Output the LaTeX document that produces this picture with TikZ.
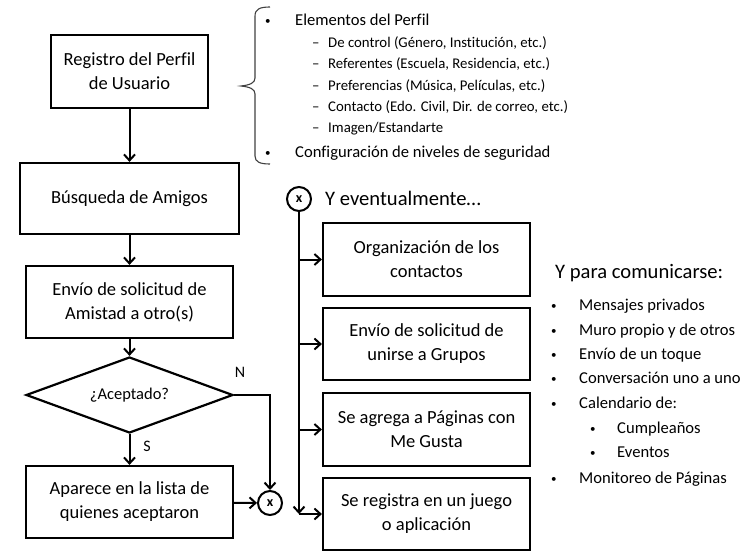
\documentclass[tikz,border=0pt]{standalone}
\usepackage{fontspec}
\setmainfont[Ligatures={NoCommon}]{Carlito}
\usetikzlibrary{shapes.geometric,arrows.meta}
\newcommand{\smbul}{\raisebox{0.5pt}{\fontsize{11}{11}\selectfont •}}
\begin{document}
\begin{tikzpicture}[x=1pt,y=-1pt,
  box/.style={draw,line width=2.2pt,inner sep=0pt,align=center,font=\fontsize{18.5}{24}\selectfont},
  lbox/.style={box,minimum width=207pt,minimum height=72pt},
  conn/.style={line width=2pt,-{Straight Barb[length=6pt,width=11pt]}},
  xcirc/.style={circle,draw,line width=2pt,minimum size=24pt,inner sep=0pt,font=\bfseries\fontsize{14}{14}\selectfont},
  item/.style={anchor=base west,inner sep=0pt,font=\fontsize{16.6}{20}\selectfont},
  subitem/.style={anchor=base west,inner sep=0pt,font=\fontsize{14.8}{18}\selectfont},
  title/.style={anchor=base west,inner sep=0pt,font=\fontsize{20.6}{24}\selectfont},
  lab/.style={inner sep=0pt,font=\fontsize{16}{18}\selectfont}
]
\useasboundingbox (0,0) rectangle (751,559);

% left column
\node[box,minimum width=157pt,minimum height=73pt] (reg) at (129.5,71.5) {Registro del Perfil\\de Usuario};
\node[box,minimum width=219pt,minimum height=71pt] (bus) at (129.5,198.5) {Búsqueda de Amigos};
\node[lbox] (env) at (129.5,302) {Envío de solicitud de\\Amistad a otro(s)};
\node[diamond,draw,line width=2.2pt,aspect=3,minimum width=207pt,minimum height=76pt,inner sep=0pt,font=\fontsize{16.5}{20}\selectfont] (acep) at (129.5,395) {¿Aceptado?};
\node[lbox] (apa) at (129.5,502) {Aparece en la lista de\\quienes aceptaron};
\node[xcirc] (x1) at (270,503) {x};
\node[lab] (lN) at (240,372) {N};
\node[lab] (lS) at (147,446) {S};

\draw[conn] (reg) -- (bus);
\draw[conn] (bus) -- (env);
\draw[conn] (env) -- (acep);
\draw[conn] (acep) -- (apa);
\draw[conn] (acep.east) -| (x1.north);
\draw[conn] (apa) -- (x1);

% right column
\node[xcirc] (x2) at (299,199) {x};
\node[title] (yev) at (325,205.6) {Y eventualmente…};
\node[box,minimum width=207pt,minimum height=73pt] (ba) at (426.5,259.5) {Organización de los\\contactos};
\node[lbox] (bb) at (426.5,344) {Envío de solicitud de\\unirse a Grupos};
\node[box,minimum width=207pt,minimum height=73pt] (bc) at (426.5,429.5) {Se agrega a Páginas con\\Me Gusta};
\node[lbox] (bd) at (426.5,514) {Se registra en un juego\\o aplicación};
\coordinate (vend) at (x2.south |- bd.west);
\draw[conn] (x2) -- (vend);
\draw[conn] (x2.south |- ba.west) -- (ba.west);
\draw[conn] (x2.south |- bb.west) -- (bb.west);
\draw[conn] (x2.south |- bc.west) -- (bc.west);
\draw[conn] (vend) -- (bd.west);

% brace
\draw[line width=1.1pt,black!75] (270,7) .. controls (260,7) and (255,9) .. (255,16) -- (255,78)
  .. controls (255,83) and (250,85) .. (241,86) .. controls (250,87) and (255,89) .. (255,94)
  -- (255,156) .. controls (255,162) and (260,164) .. (270,164);

% top list
\node[item] (t1) at (265,25.3) {\makebox[30pt][l]{\smbul}Elementos del Perfil};
\node[subitem] (t2) at (312,47.6) {\makebox[16pt][l]{–}De control (Género, Institución, etc.)};
\node[subitem] (t3) at (312,68.6) {\makebox[16pt][l]{–}Referentes (Escuela, Residencia, etc.)};
\node[subitem] (t4) at (312,90.6) {\makebox[16pt][l]{–}Preferencias (Música, Películas, etc.)};
\node[subitem] (t5) at (312,111.6) {\makebox[16pt][l]{–}Contacto (Edo. Civil, Dir. de correo, etc.)};
\node[subitem] (t6) at (312,132.6) {\makebox[16pt][l]{–}Imagen/Estandarte};
\node[item] (t7) at (265,157.3) {\makebox[30pt][l]{\smbul}Configuración de niveles de seguridad};

% right list
\node[title] (ypc) at (555,278.6) {Y para comunicarse:};
\node[item] (r1) at (551,310.3) {\makebox[28pt][l]{\smbul}Mensajes privados};
\node[item] (r2) at (551,335.3) {\makebox[28pt][l]{\smbul}Muro propio y de otros};
\node[item] (r3) at (551,359.3) {\makebox[28pt][l]{\smbul}Envío de un toque};
\node[item] (r4) at (551,383.3) {\makebox[28pt][l]{\smbul}Conversación uno a uno};
\node[item] (r5) at (551,408.3) {\makebox[28pt][l]{\smbul}Calendario de:};
\node[item] (r6) at (590,433.3) {\makebox[27pt][l]{\smbul}Cumpleaños};
\node[item] (r7) at (590,457.3) {\makebox[27pt][l]{\smbul}Eventos};
\node[item] (r8) at (551,483.3) {\makebox[28pt][l]{\smbul}Monitoreo de Páginas};
\end{tikzpicture}
\end{document}
